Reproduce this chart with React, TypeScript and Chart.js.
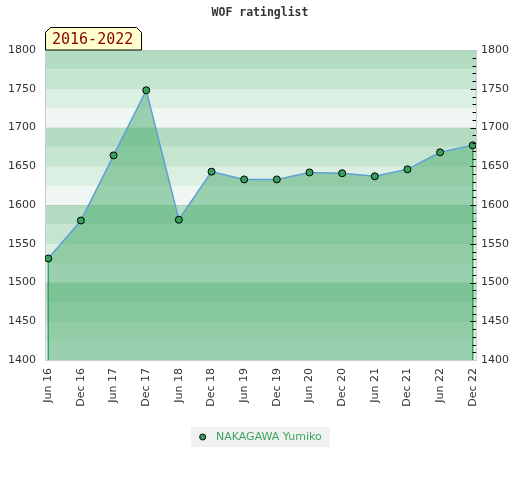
import { useEffect, useRef } from 'react';
import { Chart, registerables } from 'chart.js';

Chart.register(...registerables);

const periodLabels = ['Jun 16', 'Dec 16', 'Jun 17', 'Dec 17', 'Jun 18', 'Dec 18', 'Jun 19', 'Dec 19', 'Jun 20', 'Dec 20', 'Jun 21', 'Dec 21', 'Jun 22', 'Dec 22'];
const ratings = [1531, 1580, 1664, 1748, 1581, 1643, 1633, 1633, 1642, 1641, 1637, 1646, 1668, 1677];
const yMin = 1400;
const yMax = 1800;
const yStep = 50;
const minorStep = 10;
const bandStep = 25;
const seriesName = 'NAKAGAWA Yumiko';
const chartTitle = 'WOF ratinglist';
const periodText = '2016-2022';

const GREEN = 'rgb(55,160,90)';
const LEGEND_GREEN = 'rgb(60,165,95)';
const BAND_COLORS = ['#f0f7f2', '#dcefe3', '#c6e5d1', '#b3dcc3'];

export default function App() {
  const ref = useRef<HTMLCanvasElement>(null);

  useEffect(() => {
    const canvas = ref.current;
    if (!canvas) return;

    const decor = {
      id: 'decor',
      beforeDraw(chart: any) {
        const { ctx, chartArea: a } = chart;
        const y = chart.scales.y;
        ctx.save();
        for (let v = y.min; v < y.max; v += bandStep) {
          const idx = Math.round(((v - y.min) % 100) / bandStep) % BAND_COLORS.length;
          const top = y.getPixelForValue(v + bandStep);
          const bot = y.getPixelForValue(v);
          ctx.fillStyle = BAND_COLORS[idx];
          ctx.fillRect(a.left, top, a.right - a.left, bot - top);
        }
        ctx.restore();
      },
      beforeDatasetsDraw(chart: any) {
        const { ctx, chartArea: a } = chart;
        const meta = chart.getDatasetMeta(0);
        const pts = [meta.data[0], meta.data[meta.data.length - 1]];
        ctx.save();
        ctx.strokeStyle = GREEN;
        ctx.lineWidth = 1.5;
        ctx.beginPath();
        pts.forEach((p: any) => {
          ctx.moveTo(p.x, p.y);
          ctx.lineTo(p.x, a.bottom);
        });
        ctx.stroke();
        ctx.restore();
      },
      afterDraw(chart: any) {
        const { ctx, chartArea: a, width } = chart;
        const y = chart.scales.y;
        ctx.save();
        // right axis inner ticks
        ctx.strokeStyle = '#000';
        ctx.lineWidth = 1;
        ctx.beginPath();
        for (let v = y.min + minorStep; v < y.max; v += minorStep) {
          const py = Math.round(y.getPixelForValue(v)) + 0.5;
          const len = v % yStep === 0 ? 5.5 : 3.5;
          ctx.moveTo(a.right - len, py);
          ctx.lineTo(a.right, py);
        }
        ctx.stroke();

        // title
        ctx.fillStyle = '#333';
        ctx.font = 'bold 11.5px "DejaVu Sans Mono"';
        ctx.textAlign = 'center';
        ctx.textBaseline = 'middle';
        ctx.fillText(chartTitle, width / 2, 13);

        // period label box
        ctx.font = '15px "DejaVu Sans Mono"';
        const tw = ctx.measureText(periodText).width;
        const x0 = a.left + 0.5;
        const x1 = Math.round(a.left + 7 + tw + 8) + 0.5;
        const y0 = 27.5;
        const y1 = a.top;
        const c = 5;
        ctx.beginPath();
        ctx.moveTo(x0, y1);
        ctx.lineTo(x0, y0 + c);
        ctx.lineTo(x0 + c, y0);
        ctx.lineTo(x1 - c, y0);
        ctx.lineTo(x1, y0 + c);
        ctx.lineTo(x1, y1);
        ctx.closePath();
        ctx.fillStyle = '#ffffcc';
        ctx.fill();
        ctx.strokeStyle = '#000';
        ctx.stroke();
        ctx.fillStyle = '#8b0000';
        ctx.textAlign = 'left';
        ctx.textBaseline = 'middle';
        ctx.fillText(periodText, a.left + 7, 40);

        // legend
        const label = chart.data.datasets[0].label;
        ctx.font = '11px "DejaVu Sans"';
        const lw = ctx.measureText(label).width;
        const bw = 33 + lw;
        const bh = 20;
        const bx = Math.round(width / 2 - bw / 2);
        const by = 427;
        ctx.fillStyle = '#f1f1f1';
        ctx.fillRect(bx, by, bw, bh);
        ctx.beginPath();
        ctx.arc(bx + 11.7, by + bh / 2, 3, 0, Math.PI * 2);
        ctx.fillStyle = GREEN;
        ctx.fill();
        ctx.strokeStyle = '#000';
        ctx.lineWidth = 1;
        ctx.stroke();
        ctx.fillStyle = LEGEND_GREEN;
        ctx.textAlign = 'left';
        ctx.textBaseline = 'middle';
        ctx.fillText(label, bx + 25, by + bh / 2 + 0.5);
        ctx.restore();
      },
    };

    const plainTick = (v: any) => String(v);

    const chart = new Chart(canvas, {
      type: 'line',
      data: {
        datasets: [
          {
            label: seriesName,
            data: ratings.map((r, i) => ({ x: i, y: r })),
            borderColor: 'rgb(95,160,215)',
            borderWidth: 1.5,
            backgroundColor: 'rgba(70,170,105,0.5)',
            fill: 'start',
            tension: 0,
            pointRadius: 3.5,
            pointBackgroundColor: GREEN,
            pointBorderColor: '#000',
            pointBorderWidth: 1,
          },
        ],
      },
      options: {
        animation: false,
        responsive: false,
        events: [],
        layout: { padding: { top: 50, left: 0, right: 0, bottom: 0 } },
        plugins: {
          legend: { display: false },
          title: { display: false },
          tooltip: { enabled: false },
        },
        scales: {
          x: {
            type: 'linear',
            min: -0.1,
            max: periodLabels.length - 1 + 0.1,
            afterBuildTicks: (s: any) => {
              s.ticks = periodLabels.map((_, i) => ({ value: i }));
            },
            afterFit: (s: any) => {
              s.height = 120;
            },
            grid: { display: false, drawTicks: false },
            border: { display: true, color: '#ccc' },
            ticks: {
              autoSkip: false,
              maxRotation: 90,
              minRotation: 90,
              padding: 8,
              color: '#333',
              font: { family: 'DejaVu Sans', size: 11 },
              callback: (v: any) => periodLabels[v as number] ?? '',
            },
          },
          y: {
            position: 'left',
            min: yMin,
            max: yMax,
            afterFit: (s: any) => {
              s.width = 45;
            },
            grid: { color: 'rgba(0,0,0,0.045)', drawTicks: false },
            border: { display: true, color: '#ccc' },
            ticks: {
              stepSize: yStep,
              padding: 9,
              color: '#333',
              font: { family: 'DejaVu Sans', size: 11 },
              callback: plainTick,
            },
          },
          y2: {
            position: 'right',
            min: yMin,
            max: yMax,
            afterFit: (s: any) => {
              s.width = 44;
            },
            grid: { display: false, drawTicks: false },
            border: { display: true, color: '#ccc' },
            ticks: {
              stepSize: yStep,
              padding: 5,
              color: '#333',
              font: { family: 'DejaVu Sans', size: 11 },
              callback: plainTick,
            },
          },
        },
      },
      plugins: [decor],
    });

    return () => chart.destroy();
  }, []);

  return (
    <div style={{ position: 'fixed', left: 0, top: 0, width: 520, height: 480, background: '#fff' }}>
      <canvas ref={ref} width={520} height={480} style={{ display: 'block' }} />
    </div>
  );
}
